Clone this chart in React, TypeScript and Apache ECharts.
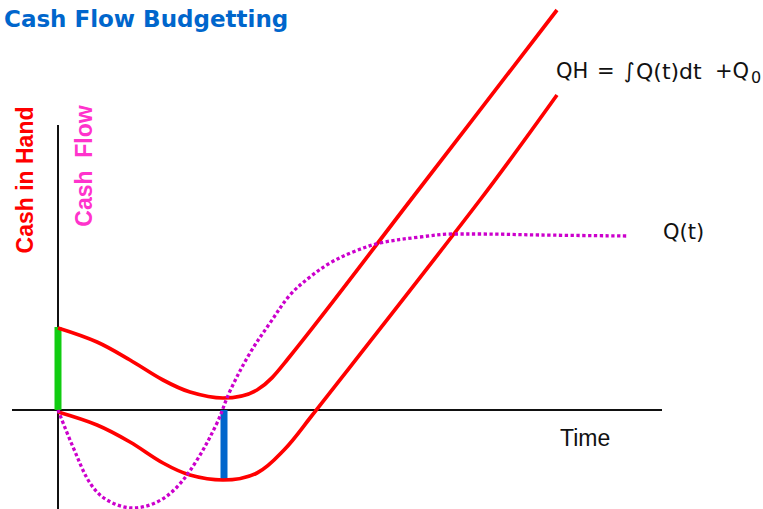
import React, { useEffect, useRef } from "react";
import * as echarts from "echarts";

// Cash in hand (upper) = ∫Q dt + Q0
const cashInHand: [number, number][] = [
  [0, 8.2], [3.9, 6.8], [7.2, 5.0], [10.5, 3.0], [13.2, 1.8], [16.5, 1.2],
  [19.9, 2.0], [22.9, 5.0], [35.5, 21.3], [49.9, 40.0],
];
// Cash in hand without the initial reserve (lower)
const cashNoReserve: [number, number][] = [
  [0, -0.2], [3.9, -1.5], [7.2, -3.2], [10.5, -5.3], [13.2, -6.5], [16.5, -7.0],
  [19.9, -6.3], [22.6, -4.0], [25.2, -0.8], [42.2, 21.0], [49.9, 31.5],
];
// Cash flow Q(t)
const cashFlow: [number, number][] = [
  [0, 0], [1.5, -3.7], [3.2, -7.3], [4.9, -9.0], [7.5, -9.8],
  [9.9, -9.2], [11.9, -7.7], [13.9, -5.0], [15.9, -1.3], [17.2, 1.9],
  [19.2, 5.7], [21.2, 8.7], [23.2, 11.5], [25.2, 13.3], [27.2, 14.7],
  [29.5, 15.8], [32.2, 16.7], [36.2, 17.3], [39.5, 17.6], [42.2, 17.6],
  [48.2, 17.5], [57.0, 17.4],
];
// Initial reserve Q0 (green) and required reserve (blue)
const reserveQ0: [number, number][] = [[0, 0], [0, 8.3]];
const reserveNeed: [number, number][] = [[16.6, 0], [16.6, -7.0]];
// Axes
const timeAxis: [number, number][] = [[-4.6, 0], [60.4, 0]];
const valueAxis: [number, number][] = [[0, 28.5], [0, -9.9]];

export default function App() {
  const ref = useRef<HTMLDivElement>(null);
  useEffect(() => {
    if (!ref.current) return;
    const chart = echarts.init(ref.current, undefined, { renderer: "svg" });
    const plain = (data: [number, number][], color: string, width: number, z: number, type: any = "solid") => ({
      type: "line",
      data,
      showSymbol: false,
      symbol: "none",
      silent: true,
      z,
      lineStyle: { color, width, type, cap: "butt" },
    });
    const txt = (text: string, x: number, y: number, font: string, fill = "#111111") => ({
      type: "text", x, y,
      style: { text, fill, font, align: "left", verticalAlign: "middle" },
    });
    chart.setOption({
      animation: false,
      grid: { left: 0, right: 0, top: 0, bottom: 0 },
      xAxis: { type: "value", min: -5.8, max: 70.5, show: false },
      yAxis: { type: "value", min: -9.9, max: 41, show: false },
      series: [
        plain(timeAxis, "#111111", 2, 1),
        plain(valueAxis, "#111111", 2, 1),
        plain(reserveQ0, "#11CC11", 7, 2),
        plain(reserveNeed, "#0066CC", 7, 2),
        { ...plain(cashInHand, "#FF0000", 3.7, 3), smooth: 0.35 },
        { ...plain(cashNoReserve, "#FF0000", 3.7, 3), smooth: 0.35 },
        { ...plain(cashFlow, "#CC00CC", 3.3, 4, [3.3, 2.5]), smooth: 0.35 },
      ],
      graphic: [
        txt("Cash Flow Budgetting", 4, 18.5, 'bold 23px "DejaVu Sans"', "#0066CC"),
        {
          type: "text", x: 24.5, y: 180, rotation: Math.PI / 2,
          style: { text: "Cash in Hand", fill: "#FF0000", font: 'bold 23px "Liberation Sans"', align: "center", verticalAlign: "middle" },
        },
        {
          type: "text", x: 84, y: 166, rotation: Math.PI / 2,
          style: { text: "Cash  Flow", fill: "#FF33CC", font: 'bold 23px "Liberation Sans"', align: "center", verticalAlign: "middle" },
        },
        txt("QH", 556, 71, '21px "DejaVu Sans"'),
        txt("=", 597, 71, '21px "DejaVu Sans"'),
        txt("∫", 624, 71, '21px "DejaVu Sans"'),
        txt("Q(t)dt", 636, 71, '22px "DejaVu Sans"'),
        txt("+Q", 715, 71, '21px "DejaVu Sans"'),
        txt("0", 751, 77, '16px "DejaVu Sans"'),
        txt("Q(t)", 663, 232, '21px "DejaVu Sans"'),
        txt("Time", 560, 438, '23px "Liberation Sans"'),
      ],
    });
    return () => chart.dispose();
  }, []);
  return <div ref={ref} style={{ position: "fixed", left: 0, top: 0, width: 763, height: 509, background: "#fff" }} />;
}
